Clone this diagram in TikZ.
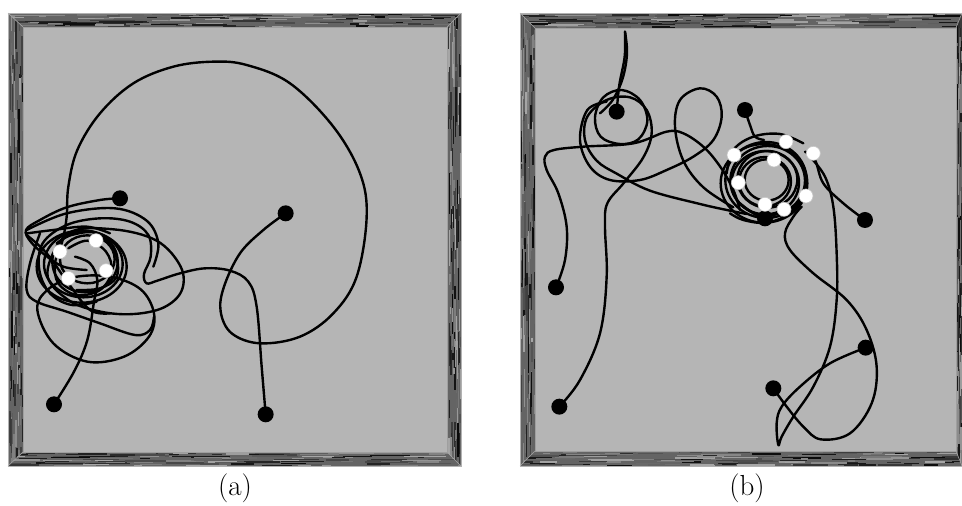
\documentclass[tikz,border=0pt]{standalone}
\usepackage{tikz}
\definecolor{arenagray}{RGB}{181,181,181}
\definecolor{framebase}{RGB}{100,100,100}
\tikzset{
  traj/.style={draw=black, line width=2.4pt, line cap=round, line join=round},
  robot/.style={circle, fill=black, minimum size=16pt, inner sep=0pt},
  puck/.style={circle, fill=white, draw=gray!45, line width=0.6pt, minimum size=14pt, inner sep=0pt},
  caption/.style={font=\fontsize{29}{34}\selectfont, inner sep=0pt}
}
\newcommand{\woodframe}[8]{%
  \fill[framebase] (#1,#2) rectangle (#3,#4);
  \begin{scope}
    \clip (#1,#2) -- (#3,#2) -- (#7,#6) -- (#5,#6) -- cycle;
    \foreach \k in {1,...,150}{%
      \pgfmathsetmacro\sx{#1-30+rnd*(#3-#1+30)}%
      \pgfmathsetmacro\sy{#2+rnd*(#6-#2)}%
      \pgfmathsetmacro\sl{6+rnd*40}%
      \pgfmathtruncatemacro\sg{35+rnd*62}%
      \draw[black!\sg, line width=1.4pt] (\sx,\sy) -- ++(\sl,0);}
  \end{scope}
  \begin{scope}
    \clip (#1,#4) -- (#3,#4) -- (#7,#8) -- (#5,#8) -- cycle;
    \foreach \k in {1,...,150}{%
      \pgfmathsetmacro\sx{#1-30+rnd*(#3-#1+30)}%
      \pgfmathsetmacro\sy{#8+rnd*(#4-#8)}%
      \pgfmathsetmacro\sl{6+rnd*40}%
      \pgfmathtruncatemacro\sg{35+rnd*62}%
      \draw[black!\sg, line width=1.4pt] (\sx,\sy) -- ++(\sl,0);}
  \end{scope}
  \begin{scope}
    \clip (#1,#2) -- (#5,#6) -- (#5,#8) -- (#1,#4) -- cycle;
    \foreach \k in {1,...,150}{%
      \pgfmathsetmacro\sx{#1+rnd*(#5-#1)}%
      \pgfmathsetmacro\sy{#2-30+rnd*(#4-#2+30)}%
      \pgfmathsetmacro\sl{6+rnd*40}%
      \pgfmathtruncatemacro\sg{35+rnd*62}%
      \draw[black!\sg, line width=1.4pt] (\sx,\sy) -- ++(0,\sl);}
  \end{scope}
  \begin{scope}
    \clip (#3,#2) -- (#7,#6) -- (#7,#8) -- (#3,#4) -- cycle;
    \foreach \k in {1,...,150}{%
      \pgfmathsetmacro\sx{#7+rnd*(#3-#7)}%
      \pgfmathsetmacro\sy{#2-30+rnd*(#4-#2+30)}%
      \pgfmathsetmacro\sl{6+rnd*40}%
      \pgfmathtruncatemacro\sg{35+rnd*62}%
      \draw[black!\sg, line width=1.4pt] (\sx,\sy) -- ++(0,\sl);}
  \end{scope}
  \draw[gray!70, line width=0.6pt] (#1,#2) -- (#5,#6) (#3,#2) -- (#7,#6) (#3,#4) -- (#7,#8) (#1,#4) -- (#5,#8);
  \draw[gray!60, line width=0.8pt] (#1,#2) rectangle (#3,#4);
  \fill[arenagray] (#5,#6) rectangle (#7,#8);
  \draw[gray!75, line width=0.8pt] (#5,#6) rectangle (#7,#8);
}
\begin{document}
\begin{tikzpicture}[x=1pt, y=-1pt]
\useasboundingbox (0,0) rectangle (962,506);
\fill[white] (0,0) rectangle (962,506);
\pgfmathsetseed{7}
\woodframe{8}{13}{461}{466}{23}{27}{447}{452}
\woodframe{520}{13}{962}{466}{535}{28}{956}{451}

% ---------------- panel (a) ----------------
\begin{scope}[scale=1/3]
  \coordinate (pa1) at (360,595);
  \coordinate (pa2) at (857,640);
  \coordinate (pa3) at (162,1213);
  \coordinate (pa4) at (797,1243);
  % big circle from robot a2
  \draw[traj] plot[smooth, tension=0.6] coordinates {(pa2) (790,690) (720,760) (672,860) (662,935) (695,1000) (780,1030) (900,1010) (1000,940) (1070,830) (1100,650) (1080,520) (1000,380) (870,250) (740,195) (640,185) (520,200) (400,250) (300,340) (232,450) (205,560) (200,650) (188,720) (165,790) (175,850) (230,885) (300,870) (335,815) (318,755) (262,722) (205,745)};
  % from robot a4
  \draw[traj] plot[smooth, tension=0.6] coordinates {(pa4) (785,1100) (770,920) (745,845) (690,812) (615,805) (540,820) (472,842) (440,850) (432,822) (452,770) (445,705) (390,665) (300,655) (200,675) (128,730) (118,810) (150,880) (215,915) (290,905)};
  % from robot a3
  \draw[traj] plot[smooth, tension=0.6] coordinates {(pa3) (222,1115) (262,1020) (282,905) (292,840) (270,790) (225,770)};
  % from robot a1
  \draw[traj] plot[smooth, tension=0.6] coordinates {(pa1) (300,600) (200,622) (120,660) (78,690) (92,725) (135,765) (190,800) (260,810)};
  % loops in the cluster
  \draw[traj] plot[smooth cycle, tension=0.6] coordinates {(112,930) (160,1030) (262,1085) (372,1070) (447,1010) (462,940) (422,868) (330,830) (220,832) (142,870)};
  \draw[traj] plot[smooth cycle, tension=0.6] coordinates {(205,700) (340,688) (470,722) (542,800) (545,872) (492,922) (402,942) (302,935) (205,900) (142,820)};
  \draw[traj] plot[smooth, tension=0.6] coordinates {(120,700) (90,790) (80,870) (110,905) (200,935) (300,970) (405,1005) (450,990) (462,950)};
  \draw[traj] plot[smooth, tension=0.6] coordinates {(80,690) (200,640) (345,625) (440,662) (475,730) (460,800)};
  \draw[traj] (255,785) ellipse [x radius=98, y radius=92];
  \draw[traj] (250,792) ellipse [x radius=118, y radius=100];
  \draw[traj] (262,778) ellipse [x radius=82, y radius=72];
  \draw[traj] (245,800) ellipse [x radius=135, y radius=108];
  \draw[traj] plot[smooth, tension=0.6] coordinates {(80,705) (140,760) (205,850) (270,930) (330,940)};
  \draw[traj] plot[smooth, tension=0.6] coordinates {(170,730) (215,705) (290,700) (345,760) (350,830) (300,865) (230,870)};
  \draw[traj] plot[smooth, tension=0.6] coordinates {(82,700) (160,690) (260,680) (330,700)};
  \node[robot] (ra1) at (pa1) {};
  \node[robot] (ra2) at (pa2) {};
  \node[robot] (ra3) at (pa3) {};
  \node[robot] (ra4) at (pa4) {};
  \node[puck] (wa1) at (180,755) {};
  \node[puck] (wa2) at (288,722) {};
  \node[puck] (wa3) at (318,812) {};
  \node[puck] (wa4) at (205,835) {};
\end{scope}

% ---------------- panel (b) ----------------
\begin{scope}[shift={(500,0)}, scale=1/3]
  \coordinate (pb1) at (350,335);
  \coordinate (pb2) at (735,330);
  \coordinate (pb3) at (1095,660);
  \coordinate (pb4) at (168,862);
  \coordinate (pb5) at (178,1220);
  \coordinate (pb6) at (1097,1043);
  \coordinate (pb7) at (820,1165);
  \coordinate (pb8) at (795,655);
  \coordinate (top) at (375,95);
  % ring around the pucks
  \draw[traj] (800,540) ellipse [x radius=66, y radius=62];
  \draw[traj] (795,545) ellipse [x radius=78, y radius=74];
  \draw[traj] (802,538) ellipse [x radius=90, y radius=85];
  \draw[traj] (796,548) ellipse [x radius=101, y radius=95];
  \draw[traj] (803,542) ellipse [x radius=112, y radius=104];
  \draw[traj] (798,540) ellipse [x radius=122, y radius=114];
  \draw[traj] (792,550) ellipse [x radius=130, y radius=118];
  \draw[traj] plot[smooth, tension=0.6] coordinates {(690,640) (730,660) (800,668) (870,640) (910,590)};
  \draw[traj] plot[smooth, tension=0.6] coordinates {(680,520) (700,450) (760,410) (840,402) (910,430)};
  % strokes to the top wall
  \draw[traj] plot[smooth, tension=0.6] coordinates {(pb1) (358,255) (374,170) (top)};
  \draw[traj] plot[smooth, tension=0.6] coordinates {(top) (381,160) (368,235) (338,300) (300,340)};
  % small circle around robot b1
  \draw[traj] plot[smooth cycle, tension=0.6] coordinates {(285,352) (310,292) (365,270) (420,300) (442,362) (415,418) (360,432) (302,410)};
  % from robot b4
  \draw[traj] plot[smooth, tension=0.6] coordinates {(pb4) (195,780) (200,680) (175,580) (140,510) (135,470) (162,450) (250,440) (400,430) (500,395) (550,400) (612,442) (662,502) (700,570) (720,630)};
  % from robot b5
  \draw[traj] plot[smooth, tension=0.6] coordinates {(pb5) (240,1140) (300,1000) (320,830) (315,680) (322,610) (372,548) (430,472) (455,400) (440,330) (390,292) (320,300) (262,350) (255,420) (290,482) (352,522) (450,572) (600,612) (690,632) (740,642)};
  % tall loop
  \draw[traj] plot[smooth, tension=0.6] coordinates {(700,622) (610,562) (550,482) (525,380) (540,300) (600,265) (650,290) (665,350) (640,420) (580,470) (500,510) (420,540) (330,540) (270,500) (240,420) (262,330) (320,305)};
  % from robot b2
  \draw[traj] plot[smooth, tension=0.6] coordinates {(pb2) (750,375) (765,410) (792,420)};
  % from robot b3
  \draw[traj] plot[smooth, tension=0.6] coordinates {(pb3) (1030,610) (970,550) (945,480) (915,455)};
  % long curve to the bottom tip and to robot b6
  \draw[traj] plot[smooth, tension=0.6] coordinates {(930,470) (975,530) (1000,620) (1010,760) (1010,900) (990,1040) (940,1160) (880,1250) (845,1310) (835,1335) (830,1270) (845,1220) (900,1160) (990,1090) (pb6)};
  % from robot b7
  \draw[traj] plot[smooth, tension=0.6] coordinates {(pb7) (860,1220) (910,1280) (962,1318) (1050,1300) (1115,1210) (1130,1100) (1100,990) (1040,900) (940,820) (870,750) (855,700) (880,650) (905,620)};
  \draw[traj] plot[smooth, tension=0.6] coordinates {(pb8) (760,640) (720,610)};
  \node[robot] (rb1) at (pb1) {};
  \node[robot] (rb2) at (pb2) {};
  \node[robot] (rb3) at (pb3) {};
  \node[robot] (rb4) at (pb4) {};
  \node[robot] (rb5) at (pb5) {};
  \node[robot] (rb6) at (pb6) {};
  \node[robot] (rb7) at (pb7) {};
  \node[robot] (rb8) at (pb8) {};
  \node[puck] (wb1) at (858,425) {};
  \node[puck] (wb2) at (940,460) {};
  \node[puck] (wb3) at (702,465) {};
  \node[puck] (wb4) at (822,480) {};
  \node[puck] (wb5) at (715,548) {};
  \node[puck] (wb6) at (918,588) {};
  \node[puck] (wb7) at (795,613) {};
  \node[puck] (wb8) at (852,628) {};
\end{scope}

\node[caption] (capa) at (235,488) {(a)};
\node[caption] (capb) at (747,488) {(b)};
\end{tikzpicture}
\end{document}
